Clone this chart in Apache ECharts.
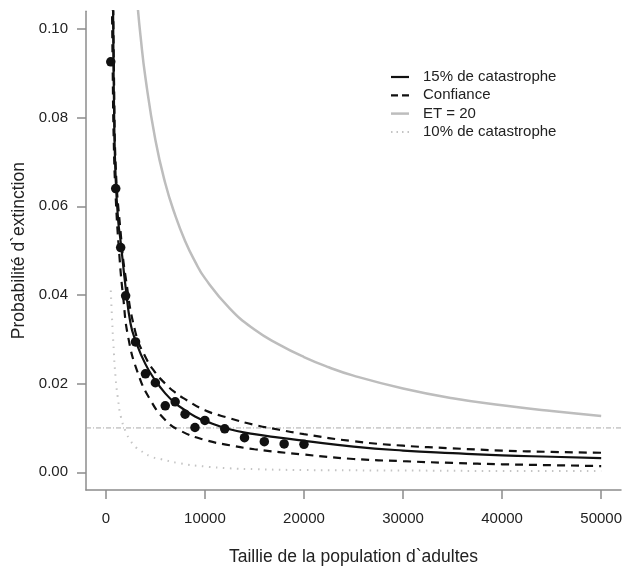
<!DOCTYPE html>
<html>
<head>
<meta charset="utf-8">
<script src="https://cdn.jsdelivr.net/npm/echarts@6/dist/echarts.min.js"></script>
<style>html,body{margin:0;padding:0;background:#fff;overflow:hidden;}#c{width:622px;height:567px;}</style>
</head>
<body>
<div id="c"></div>
<script>
// ---- data ----
const xTicks = [0, 10000, 20000, 30000, 40000, 50000];
const yTicks = [0, 0.02, 0.04, 0.06, 0.08, 0.10];
const threshold = 0.01;

// observed points (black dots)
const obsX = [500, 1000, 1500, 2000, 3000, 4000, 5000, 6000, 7000, 8000, 9000, 10000, 12000, 14000, 16000, 18000, 20000];
const obsY = [0.0926, 0.0640, 0.0507, 0.0398, 0.0294, 0.0222, 0.0202, 0.0150, 0.0159, 0.0131, 0.0101, 0.0117, 0.0098, 0.0078, 0.0069, 0.0064, 0.0063];

// 15% de catastrophe (solid black)
const solidX = [720, 750, 850, 1000, 1250, 1500, 2000, 2500, 3000, 4000, 5000, 6000, 7000, 8000, 9000, 10000, 12500, 15000, 17500, 20000, 25000, 30000, 35000, 40000, 45000, 50000];
const solidY = [0.108, 0.100, 0.079, 0.066, 0.0567, 0.0520, 0.0417, 0.0335, 0.0297, 0.0244, 0.0207, 0.0178, 0.0156, 0.0140, 0.0126, 0.0116, 0.0097, 0.0086, 0.0078, 0.0071, 0.0058, 0.0049, 0.0043, 0.0038, 0.0035, 0.0032];

// Confiance — upper bound (dashed)
const upperX = [740, 850, 1000, 1500, 2000, 3000, 4000, 5000, 6000, 7000, 8000, 10000, 12500, 15000, 17500, 20000, 25000, 30000, 35000, 40000, 45000, 50000];
const upperY = [0.108, 0.085, 0.069, 0.054, 0.044, 0.0315, 0.0260, 0.0225, 0.0200, 0.0180, 0.0165, 0.0140, 0.0122, 0.0107, 0.0096, 0.0086, 0.0070, 0.0060, 0.0054, 0.0049, 0.0046, 0.0044];

// Confiance — lower bound (dashed)
const lowerX = [620, 700, 800, 1000, 1400, 1750, 2250, 3250, 4500, 6000, 7500, 10000, 12500, 15000, 20000, 25000, 30000, 35000, 40000, 45000, 50000];
const lowerY = [0.106, 0.090, 0.075, 0.062, 0.048, 0.0396, 0.0306, 0.0223, 0.0163, 0.0118, 0.0094, 0.0073, 0.0061, 0.0052, 0.0040, 0.0030, 0.0025, 0.0021, 0.0018, 0.0016, 0.0014];

// ET = 20 (grey)
const etX = [3200, 3500, 4000, 5000, 6000, 7000, 8000, 9000, 10000, 12500, 15000, 17500, 20000, 22500, 25000, 30000, 35000, 40000, 45000, 50000];
const etY = [0.1055, 0.0985, 0.0890, 0.0750, 0.0652, 0.0580, 0.0522, 0.0476, 0.0438, 0.0370, 0.0322, 0.0288, 0.0260, 0.0237, 0.0218, 0.0189, 0.0167, 0.0151, 0.0138, 0.0127];

// 10% de catastrophe (grey dotted)
const tenX = [500, 600, 750, 1000, 1250, 1500, 2000, 2500, 3000, 3500, 4500, 5500, 7500, 10000, 12500, 15000, 20000, 30000, 40000, 50000];
const tenY = [0.041, 0.036, 0.0295, 0.021, 0.0162, 0.0127, 0.0092, 0.0071, 0.0057, 0.0049, 0.0036, 0.0030, 0.0020, 0.0013, 0.0009, 0.0007, 0.0005, 0.0004, 0.0003, 0.0003];

const names = ['15% de catastrophe', 'Confiance', 'ET = 20', '10% de catastrophe'];

const zip = (xs, ys) => xs.map((x, i) => [x, ys[i]]);
const FONT = 'Liberation Sans, Arial, sans-serif';

// line styles shared by series and legend
const styles = [
  { color: '#111', width: 2.2, type: 'solid' },
  { color: '#111', width: 2.2, type: [8, 6] },
  { color: '#bdbdbd', width: 2.5, type: 'solid' },
  { color: '#c4c4c4', width: 2, type: [1.5, 5.5] }
];
const legendDash = ['solid', [7, 4], 'solid', [1.5, 4]];

const chart = echarts.init(document.getElementById('c'));
const lineBase = { type: 'line', symbol: 'none', smooth: 0.5, clip: true, silent: true };

const legendGraphics = [];
names.forEach((n, i) => {
  const y = 77 + i * 18.3;
  legendGraphics.push({
    type: 'line', shape: { x1: 391, y1: y, x2: 409, y2: y },
    style: { stroke: styles[i].color, lineWidth: styles[i].width, lineDash: legendDash[i] === 'solid' ? null : legendDash[i] }
  });
  legendGraphics.push({
    type: 'text', x: 423, y: y,
    style: { text: n, fontSize: 15, fontFamily: FONT, fill: '#222', verticalAlign: 'middle', align: 'left' }
  });
});

chart.setOption({
  animation: false,
  backgroundColor: '#ffffff',
  grid: { left: 86, right: 1, top: 11.3, bottom: 77, containLabel: false, outerBoundsMode: 'none' },
  graphic: legendGraphics,
  xAxis: {
    type: 'value', min: -2000, max: 52000,
    name: 'Taillie de la population d`adultes', nameLocation: 'middle', nameGap: 58,
    nameTextStyle: { fontSize: 17.5, color: '#222', fontFamily: FONT },
    axisLine: { show: true, onZero: false, lineStyle: { color: '#8c8c8c', width: 1.5 } },
    axisTick: { show: true, length: 9, customValues: xTicks, lineStyle: { color: '#8c8c8c', width: 1.5 } },
    axisLabel: { customValues: xTicks, margin: 21, fontSize: 15, color: '#222', fontFamily: FONT, formatter: v => String(v) },
    splitLine: { show: false }
  },
  yAxis: {
    type: 'value', min: -0.004, max: 0.104,
    name: 'Probabilité d`extinction', nameLocation: 'middle', nameGap: 53, nameRotate: 90,
    nameTextStyle: { fontSize: 17.5, color: '#222', fontFamily: FONT },
    axisLine: { show: true, onZero: false, lineStyle: { color: '#8c8c8c', width: 1.5 } },
    axisTick: { show: true, length: 9, customValues: yTicks, lineStyle: { color: '#8c8c8c', width: 1.5 } },
    axisLabel: { customValues: yTicks, margin: 18, fontSize: 15, color: '#222', fontFamily: FONT, formatter: v => v.toFixed(2) },
    splitLine: { show: false }
  },
  series: [
    Object.assign({}, lineBase, { name: 'ref', data: [[-2000, threshold], [52000, threshold]], smooth: false,
      lineStyle: { color: '#a8a8a8', width: 1, type: [5, 2, 1, 2] }, z: 1 }),
    Object.assign({}, lineBase, { name: names[3], data: zip(tenX, tenY), lineStyle: styles[3], z: 2 }),
    Object.assign({}, lineBase, { name: names[2], data: zip(etX, etY), lineStyle: styles[2], z: 2 }),
    Object.assign({}, lineBase, { name: names[1], data: zip(upperX, upperY), lineStyle: styles[1], z: 3 }),
    Object.assign({}, lineBase, { name: names[1] + ' bas', data: zip(lowerX, lowerY), lineStyle: styles[1], z: 3 }),
    Object.assign({}, lineBase, { name: names[0], data: zip(solidX, solidY), lineStyle: styles[0], z: 4 }),
    { type: 'scatter', name: 'Observé', data: zip(obsX, obsY), symbol: 'circle', symbolSize: 9.5,
      itemStyle: { color: '#111', opacity: 1 }, z: 5, silent: true }
  ]
});
</script>
</body>
</html>
